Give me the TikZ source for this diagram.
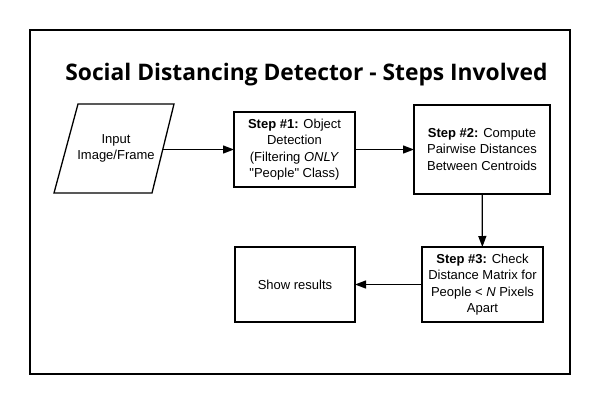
\documentclass[tikz,border=0pt]{standalone}
\usepackage{fontspec}
\setmainfont{Liberation Sans}
\newfontfamily\titlefont{Open Sans}
\usetikzlibrary{arrows.meta}
\begin{document}
\begin{tikzpicture}[x=1pt,y=-1pt,
  stepbox/.style={draw,line width=1.3pt,outer sep=0pt,inner sep=2pt,align=center,
    font=\fontsize{13}{16.5}\selectfont},
  conn/.style={line width=1.3pt,-{Triangle[length=11pt,width=8pt]}},
]
\useasboundingbox (0,0) rectangle (600,405);
\fill[white] (0,0) rectangle (600,405);
\node[draw,line width=2pt,minimum width=540pt,minimum height=344pt,outer sep=0pt,inner sep=0pt] (frame) at (300,202) {};
\node[font=\titlefont\bfseries\fontsize{22.8}{26}\selectfont,anchor=base] (title) at (306.5,80.5) {Social Distancing Detector - Steps Involved};
\draw[line width=1.3pt,line join=miter] (78,104) -- (174,104) -- (152,193) -- (54,193) -- cycle;
\node[align=center,font=\fontsize{13}{16.5}\selectfont] (in) at (116,148.5) {Input\\Image/Frame};
\coordinate (inR) at (163,149.5);
\node[stepbox,minimum width=121pt,minimum height=75pt] (s1) at (294.5,149.5)
  {\textbf{Step \#1:} Object\\Detection\\(Filtering \textit{ONLY}\\\textquotedbl People\textquotedbl{} Class)};
\node[stepbox,minimum width=136pt,minimum height=89pt] (s2) at (482,149.5)
  {\textbf{Step \#2:} Compute\\Pairwise Distances\\Between Centroids};
\node[stepbox,minimum width=121pt,minimum height=75pt] (s3) at (482.5,284.5)
  {\textbf{Step \#3:} Check\\Distance Matrix for\\People < \textit{N} Pixels\\Apart};
\node[stepbox,minimum width=120pt,minimum height=75pt] (res) at (295,284.5) {Show results};
\draw[conn] (inR) -- (s1);
\draw[conn] (s1) -- (s2);
\draw[conn] (s2) -- (s3);
\draw[conn] (s3) -- (res);
\end{tikzpicture}
\end{document}
